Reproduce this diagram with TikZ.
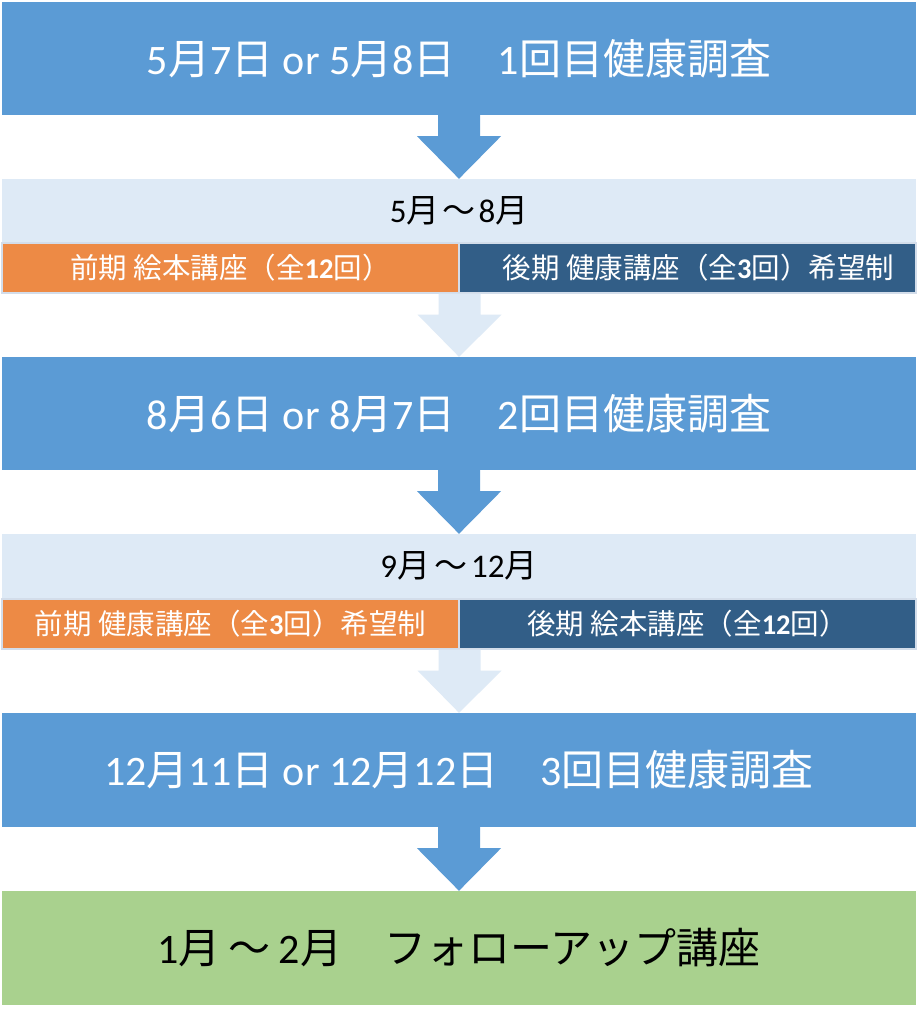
\documentclass[tikz,border=0pt]{standalone}
\usepackage{fontspec}
\setmainfont{Noto Sans CJK JP}
\newfontfamily\lfont{Carlito}
\usetikzlibrary{calc}
\definecolor{mblue}{HTML}{5B9BD5}
\definecolor{lblue}{HTML}{DEEAF6}
\definecolor{morange}{HTML}{ED8A45}
\definecolor{dblue}{HTML}{325E87}
\definecolor{mgreen}{HTML}{A9D18E}
\definecolor{edgec}{HTML}{D3DDEA}
\newcommand\blockarrow[3]{%
  \fill[#3] ($(#1)+(-21,0)$) -- ($(#1)+(21,0)$) -- ($(#1)+(21,21)$) -- ($(#1)+(42,21)$)
    -- (#2) -- ($(#1)+(-42,21)$) -- ($(#1)+(-21,21)$) -- cycle;}
\begin{document}
\begin{tikzpicture}[x=1pt,y=-1pt,
  mainbox/.style={fill=mblue, minimum width=914pt, minimum height=113pt, inner sep=0pt,
    text=white, font=\fontsize{42}{50}\selectfont},
  greenbox/.style={mainbox, fill=mgreen, text=black, minimum height=114pt},
  band/.style={fill=lblue, minimum width=914pt, minimum height=64pt, inner sep=0pt,
    text=black, font=\fontsize{33}{40}\selectfont},
  half/.style={draw=edgec, line width=1.2pt, minimum width=457pt, minimum height=50pt,
    inner sep=0pt, text=white, font=\fontsize{28.5}{34}\selectfont},
  orangebox/.style={half, fill=morange},
  darkbox/.style={half, fill=dblue}]
\useasboundingbox (0,0) rectangle (918,1021);
\fill[white] (0,0) rectangle (918,1021);

\node[mainbox] (b1) at (459,58.5) {{\lfont 5}月{\lfont 7}日{\lfont\ or 5}月{\lfont 8}日　{\lfont 1}回目健康調査};
\node[band] (p1) at (459,211) {{\lfont 5}月\hspace{3pt}～\hspace{3pt}{\lfont 8}月};
\node[orangebox] (o1) at (230.5,268) {前期 絵本講座（全{\lfont\bfseries 12}回）};
\node[darkbox] (d1) at (687.5,268) {\hspace{22pt}後期 健康講座（全{\lfont\bfseries 3}回）希望制};
\node[mainbox] (b2) at (459,413.5) {{\lfont 8}月{\lfont 6}日{\lfont\ or 8}月{\lfont 7}日　{\lfont 2}回目健康調査};
\node[band] (p2) at (459,566) {{\lfont 9}月\hspace{4pt}～\hspace{4pt}{\lfont 12}月};
\node[orangebox] (o2) at (230.5,624) {前期 健康講座（全{\lfont\bfseries 3}回）希望制};
\node[darkbox] (d2) at (687.5,624) {後期 絵本講座（全{\lfont\bfseries 12}回）};
\node[mainbox, minimum height=114pt] (b3) at (459,770) {{\lfont 12}月{\lfont 11}日{\lfont\ or 12}月{\lfont 12}日　{\lfont 3}回目健康調査};
\node[greenbox] (g) at (459,948) {{\lfont 1}月\hspace{8pt}～\hspace{8pt}{\lfont 2}月　フォローアップ講座};

\blockarrow{b1.south}{p1.north}{mblue}
\blockarrow{o1.south east}{b2.north}{lblue}
\blockarrow{b2.south}{p2.north}{mblue}
\blockarrow{o2.south east}{b3.north}{lblue}
\blockarrow{b3.south}{g.north}{mblue}
\end{tikzpicture}
\end{document}
